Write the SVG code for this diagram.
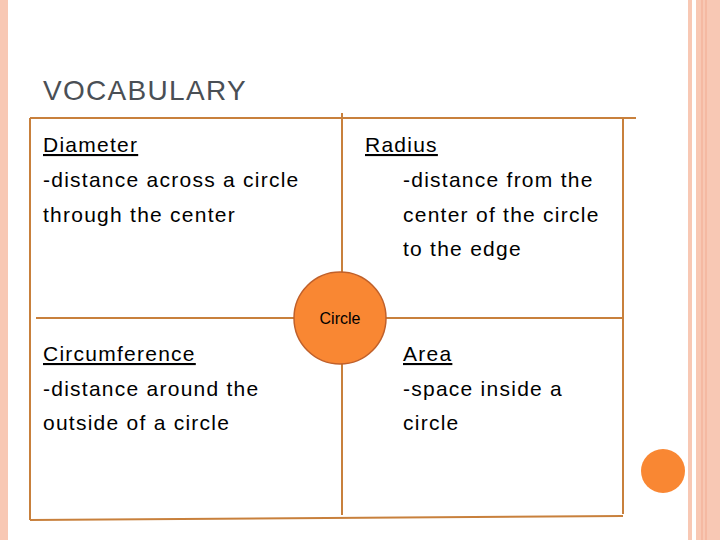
<svg xmlns="http://www.w3.org/2000/svg" width="720" height="540" viewBox="0 0 720 540">
<style>
.t{font-family:"Liberation Sans",Arial,sans-serif;font-size:21px;fill:#000;letter-spacing:1.25px}
.g{stroke:#c8803c;stroke-width:2;fill:none}
</style>
<rect width="720" height="540" fill="#fff"/>
<rect x="0" y="0" width="8" height="540" fill="#f8c8b4"/>
<rect x="688" y="0" width="4" height="540" fill="#f8c8b4"/>
<rect x="696" y="0" width="24" height="540" fill="#f8c8b4"/>
<line x1="702" y1="0" x2="702" y2="540" stroke="#f4b49c" stroke-width="1.5"/>
<line x1="706" y1="0" x2="706" y2="540" stroke="#f4b49c" stroke-width="1.5"/>
<circle cx="663" cy="471" r="22" fill="#f98733"/>
<text x="43" y="100" font-family="Liberation Sans,Arial,sans-serif" font-size="28" fill="#4a4f55" letter-spacing="1.3">VOCABULARY</text>
<g id="connectors" class="g">
<path d="M30 118 H636"/>
<path d="M30 118 V520"/>
<path d="M30 520 L623 516"/>
<path d="M623 118 V514"/>
<path d="M342 113 V515"/>
<path d="M36 318 H623"/>
</g>
<g id="diameter"><text class="t" x="43" y="152" text-decoration="underline">Diameter</text><text class="t" x="43" y="187">-distance across a circle</text><text class="t" x="43" y="222">through the center</text></g>
<g id="radius"><text class="t" x="365" y="152" text-decoration="underline">Radius</text><text class="t" x="403" y="187">-distance from the</text><text class="t" x="403" y="222">center of the circle</text><text class="t" x="403" y="256">to the edge</text></g>
<g id="circumference"><text class="t" x="43" y="361" text-decoration="underline">Circumference</text><text class="t" x="43" y="396">-distance around the</text><text class="t" x="43" y="430">outside of a circle</text></g>
<g id="area"><text class="t" x="403" y="361" text-decoration="underline">Area</text><text class="t" x="403" y="396">-space inside a</text><text class="t" x="403" y="430">circle</text></g>
<g id="circle"><circle cx="340" cy="318" r="46" fill="#f98733" stroke="#c0602a" stroke-width="1.5"/><text x="340" y="324" text-anchor="middle" font-family="Liberation Sans,Arial,sans-serif" font-size="16">Circle</text></g>
</svg>
